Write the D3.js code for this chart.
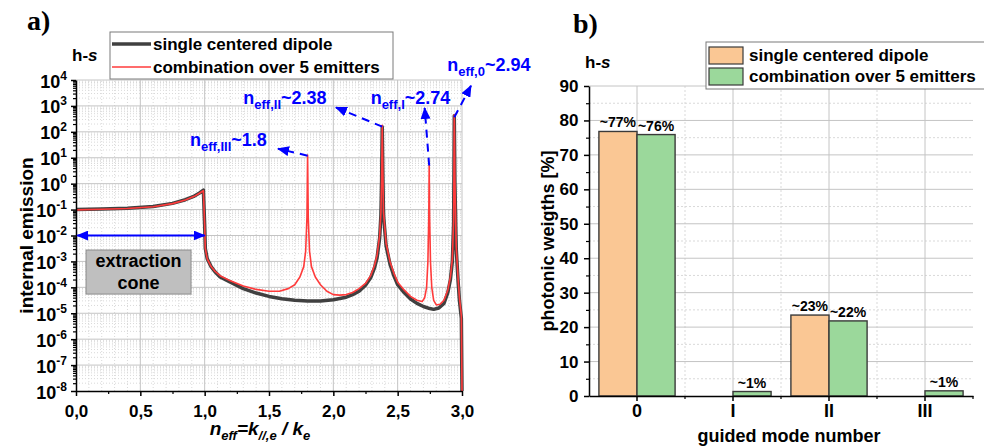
<!DOCTYPE html>
<html>
<head>
<meta charset="utf-8">
<script src="https://cdn.jsdelivr.net/npm/d3@7"></script>
<style>
  body { margin: 0; background: #fff; }
  svg { display: block; font-family: Arial, "Liberation Sans", sans-serif; font-weight: bold; }
</style>
</head>
<body>
<svg id="chart" width="984" height="446"></svg>
<script>
// ---- panel a data : [n_eff, log10(internal emission)]
var dipoleCurve = [
  [0.00,-1.00],[0.20,-0.98],[0.40,-0.95],[0.60,-0.88],[0.75,-0.76],[0.85,-0.62],
  [0.92,-0.48],[0.96,-0.36],[0.99,-0.25],[1.00,-1.60],[1.005,-2.50],[1.02,-2.90],
  [1.05,-3.20],[1.08,-3.40],[1.12,-3.60],[1.20,-3.80],[1.30,-4.05],[1.40,-4.22],
  [1.50,-4.35],[1.60,-4.44],[1.70,-4.50],[1.80,-4.53],[1.90,-4.53],[2.00,-4.48],
  [2.05,-4.43],[2.10,-4.38],[2.15,-4.28],[2.20,-4.15],[2.25,-3.92],[2.29,-3.63],
  [2.32,-3.25],[2.34,-2.86],[2.36,-2.10],[2.37,-1.20],[2.375,0.00],[2.38,2.20],
  [2.385,0.30],[2.39,-1.20],[2.41,-2.40],[2.44,-3.10],[2.47,-3.55],[2.50,-3.90],
  [2.55,-4.20],[2.60,-4.45],[2.65,-4.62],[2.70,-4.74],[2.75,-4.82],[2.78,-4.85],
  [2.82,-4.80],[2.86,-4.62],[2.89,-4.20],[2.91,-3.70],[2.925,-3.00],[2.935,-1.50],
  [2.94,2.62],[2.945,0.00],[2.955,-2.50],[2.97,-3.80],[2.98,-4.50],[2.995,-5.20],
  [3.00,-8.00]
];
var comboCurve = [
  [0.00,-1.01],[0.20,-0.99],[0.40,-0.96],[0.60,-0.89],[0.75,-0.77],[0.85,-0.63],
  [0.92,-0.49],[0.96,-0.37],[0.99,-0.27],[1.00,-1.60],[1.005,-2.50],[1.02,-2.90],
  [1.05,-3.20],[1.08,-3.38],[1.12,-3.55],[1.20,-3.75],[1.30,-3.95],[1.40,-4.08],
  [1.50,-4.15],[1.58,-4.15],[1.65,-4.05],[1.70,-3.90],[1.74,-3.60],[1.77,-3.20],
  [1.785,-2.60],[1.795,-1.30],[1.80,1.10],[1.805,-1.30],[1.815,-2.60],[1.83,-3.20],
  [1.86,-3.60],[1.90,-3.90],[1.95,-4.15],[2.00,-4.28],[2.05,-4.30],[2.10,-4.28],
  [2.15,-4.20],[2.20,-4.05],[2.25,-3.85],[2.29,-3.55],[2.32,-3.15],[2.34,-2.75],
  [2.36,-2.00],[2.37,-1.10],[2.375,0.10],[2.38,2.25],[2.385,0.40],[2.39,-1.10],
  [2.41,-2.30],[2.44,-3.00],[2.47,-3.45],[2.50,-3.80],[2.55,-4.10],[2.60,-4.35],
  [2.65,-4.50],[2.69,-4.55],[2.71,-4.40],[2.725,-4.00],[2.735,-3.00],[2.742,-1.20],
  [2.745,0.75],[2.748,-1.20],[2.755,-3.00],[2.765,-4.00],[2.78,-4.50],[2.80,-4.68],
  [2.83,-4.65],[2.86,-4.50],[2.89,-4.10],[2.91,-3.60],[2.925,-2.90],[2.935,-1.40],
  [2.94,2.66],[2.945,0.10],[2.955,-2.40],[2.97,-3.70],[2.98,-4.40],[2.995,-5.10],
  [3.00,-8.00]
];
// mode annotations: label parts, peak position, peak value (log10), label anchor (n_eff, log10), arrow tip
var modeSubs   = ["eff,III", "eff,II", "eff,I", "eff,0"];
var modeNums   = ["~1.8", "~2.38", "~2.74", "~2.94"];
var peakNeff   = [1.80, 2.38, 2.745, 2.94];
var peakLog    = [1.08, 2.20, 0.70, 2.56];
var labelNeff  = [0.886, 1.30, 2.29, 2.885];
var labelLog   = [1.45, 3.07, 3.07, 4.33];
var tipNeff    = [1.57, 2.02, 2.71, 3.07];
var tipLog     = [1.35, 2.94, 2.92, 3.78];

// ---- panel b data
var modes = ["0", "I", "II", "III"];
var seriesNames = ["single centered dipole", "combination over 5 emitters"];
var weightDipole = [76.8, 0, 23.5, 0];
var weightCombo  = [75.9, 1.3, 21.8, 1.5];
var labelDipole  = ["~77%", "", "~23%", ""];
var labelCombo   = ["~76%", "~1%", "~22%", "~1%"];

var svg = d3.select("#chart");
var blue = "#0000ff";
var gridMajor = "#c4c4c4", gridMinor = "#d9d9d9";

var defs = svg.append("defs");
defs.append("marker")
  .attr("id", "arrowBlue")
  .attr("viewBox", "0 0 12 10")
  .attr("refX", 11).attr("refY", 5)
  .attr("markerWidth", 12).attr("markerHeight", 10)
  .attr("markerUnits", "userSpaceOnUse")
  .attr("orient", "auto-start-reverse")
  .append("path").attr("d", "M0,0 L12,5 L0,10 z").attr("fill", blue);

function styleAxis(g, width) {
  g.select(".domain").attr("stroke", "#000").attr("stroke-width", width);
  g.selectAll(".tick line").attr("stroke", "#000").attr("stroke-width", width);
}

// =========================== PANEL A ===========================
var xa = d3.scaleLinear().domain([0, 3]).range([76, 462]);
var ya = d3.scaleLog().domain([1e-8, 1e4]).range([391, 80]);

var gA = svg.append("g");

// grid
var minorX = d3.range(1, 30).map(function(i) { return i / 10; }).filter(function(v) { return Math.round(v * 10) % 5 !== 0; });
var majorX = [0.5, 1, 1.5, 2, 2.5, 3];
var decades = d3.range(-8, 5).map(function(e) { return Math.pow(10, e); });
var minorY = [];
d3.range(-8, 4).forEach(function(e) {
  for (var k = 2; k <= 9; k++) minorY.push(k * Math.pow(10, e));
});

gA.selectAll(".gmx").data(minorX).enter().append("line")
  .attr("x1", xa).attr("x2", xa).attr("y1", ya(1e-8)).attr("y2", ya(1e4))
  .attr("stroke", gridMinor).attr("stroke-dasharray", "1,2");
gA.selectAll(".gmy").data(minorY).enter().append("line")
  .attr("y1", ya).attr("y2", ya).attr("x1", xa(0)).attr("x2", xa(3))
  .attr("stroke", gridMinor).attr("stroke-dasharray", "1,2");
gA.selectAll(".gMx").data(majorX).enter().append("line")
  .attr("x1", xa).attr("x2", xa).attr("y1", ya(1e-8)).attr("y2", ya(1e4))
  .attr("stroke", gridMajor);
gA.selectAll(".gMy").data(decades.slice(1)).enter().append("line")
  .attr("y1", ya).attr("y2", ya).attr("x1", xa(0)).attr("x2", xa(3))
  .attr("stroke", gridMajor);

// curves
var lineA = d3.line()
  .x(function(d) { return xa(d[0]); })
  .y(function(d) { return ya(Math.pow(10, d[1])); });

gA.append("path").datum(dipoleCurve)
  .attr("d", lineA).attr("fill", "none")
  .attr("stroke", "#404040").attr("stroke-width", 3.5).attr("stroke-linejoin", "round");
gA.append("path").datum(comboCurve)
  .attr("d", lineA).attr("fill", "none")
  .attr("stroke", "#ff3b3b").attr("stroke-width", 1.6).attr("stroke-linejoin", "round");

// axes
var axBottomA = gA.append("g").attr("transform", "translate(0," + ya(1e-8) + ")")
  .call(d3.axisBottom(xa).tickValues([0, 0.5, 1, 1.5, 2, 2.5, 3]).tickSize(5).tickSizeOuter(0)
    .tickFormat(function(d) { return d3.format(".1f")(d).replace(".", ","); }));
axBottomA.selectAll("text").attr("font-size", 17).attr("font-weight", "bold").attr("fill", "#000").attr("dy", "1.05em");
styleAxis(axBottomA, 1.5);
var axBottomAm = gA.append("g").attr("transform", "translate(0," + ya(1e-8) + ")")
  .call(d3.axisBottom(xa).tickValues([0.25, 0.75, 1.25, 1.75, 2.25, 2.75]).tickSize(3).tickFormat(""));
axBottomAm.select(".domain").remove();
styleAxis(axBottomAm, 1.2);

var axLeftA = gA.append("g").attr("transform", "translate(" + xa(0) + ",0)")
  .call(d3.axisLeft(ya).tickValues(decades).tickSize(5).tickSizeOuter(0).tickFormat(""));
styleAxis(axLeftA, 1.5);
axLeftA.selectAll(".tick").each(function(d) {
  var t = d3.select(this).append("text")
    .attr("x", -9).attr("y", 7).attr("text-anchor", "end")
    .attr("fill", "#000").attr("font-size", 18).attr("font-weight", "bold");
  t.append("tspan").text("10");
  t.append("tspan").attr("dy", -8).attr("font-size", 12).text(Math.round(Math.log10(d)));
});
var axLeftAm = gA.append("g").attr("transform", "translate(" + xa(0) + ",0)")
  .call(d3.axisLeft(ya).tickValues(minorY).tickSize(3).tickFormat(""));
axLeftAm.select(".domain").remove();
styleAxis(axLeftAm, 1.2);

// axis titles
gA.append("text")
  .attr("transform", "translate(33," + ((ya(1e-8) + ya(1e4)) / 2) + ") rotate(-90)")
  .attr("text-anchor", "middle").attr("font-size", 19).text("internal emission");

var xt = gA.append("text").attr("x", 260).attr("y", 435)
  .attr("text-anchor", "middle").attr("font-size", 19).attr("font-style", "italic");
xt.append("tspan").text("n");
xt.append("tspan").attr("dy", 5).attr("font-size", 13).text("eff");
xt.append("tspan").attr("dy", -5).text("=k");
xt.append("tspan").attr("dy", 5).attr("font-size", 13).text("//,e");
xt.append("tspan").attr("dy", -5).text(" / k");
xt.append("tspan").attr("dy", 5).attr("font-size", 13).text("e");

// h-s
var hsA = gA.append("text").attr("x", 72).attr("y", 61).attr("font-size", 17);
hsA.append("tspan").text("h-");
hsA.append("tspan").attr("font-style", "italic").text("s");

// panel title
svg.append("text").attr("x", 27).attr("y", 30)
  .attr("font-family", "'Liberation Serif', 'Times New Roman', serif")
  .attr("font-size", 28).attr("font-weight", "bold").text("a)");

// extraction cone
gA.append("line")
  .attr("x1", xa(0.01)).attr("x2", xa(1.0))
  .attr("y1", ya(1e-2)).attr("y2", ya(1e-2))
  .attr("stroke", blue).attr("stroke-width", 2)
  .attr("marker-start", "url(#arrowBlue)").attr("marker-end", "url(#arrowBlue)");
gA.append("rect")
  .attr("x", xa(0.078)).attr("y", ya(Math.pow(10, -2.56)))
  .attr("width", xa(0.894) - xa(0.078))
  .attr("height", ya(Math.pow(10, -4.26)) - ya(Math.pow(10, -2.56)))
  .attr("fill", "#bfbfbf").attr("stroke", "#8c8c8c").attr("stroke-width", 1);
gA.append("text").attr("x", xa(0.486)).attr("y", 267)
  .attr("text-anchor", "middle").attr("font-size", 18).text("extraction");
gA.append("text").attr("x", xa(0.486)).attr("y", 289)
  .attr("text-anchor", "middle").attr("font-size", 18).text("cone");

// mode annotations
modeSubs.forEach(function(sub, i) {
  gA.append("line")
    .attr("x1", xa(peakNeff[i])).attr("y1", ya(Math.pow(10, peakLog[i])))
    .attr("x2", xa(tipNeff[i])).attr("y2", ya(Math.pow(10, tipLog[i])))
    .attr("stroke", blue).attr("stroke-width", 2).attr("stroke-dasharray", "8,6")
    .attr("marker-end", "url(#arrowBlue)");
  var t = gA.append("text")
    .attr("x", xa(labelNeff[i])).attr("y", ya(Math.pow(10, labelLog[i])))
    .attr("fill", blue).attr("font-size", 18);
  t.append("tspan").text("n");
  t.append("tspan").attr("dy", 5).attr("font-size", 13).text(sub);
  t.append("tspan").attr("dy", -5).text(modeNums[i]);
});

// legend a
var legA = gA.append("g");
legA.append("rect").attr("x", 110).attr("y", 32).attr("width", 283).attr("height", 47)
  .attr("fill", "#fff").attr("stroke", "#7a7a7a").attr("stroke-width", 1);
legA.append("line").attr("x1", 112).attr("x2", 151).attr("y1", 44).attr("y2", 44)
  .attr("stroke", "#404040").attr("stroke-width", 3.5);
legA.append("line").attr("x1", 112).attr("x2", 151).attr("y1", 67).attr("y2", 67)
  .attr("stroke", "#ff3b3b").attr("stroke-width", 1.6);
legA.append("text").attr("x", 153).attr("y", 50).attr("font-size", 17).text(seriesNames[0]);
legA.append("text").attr("x", 153).attr("y", 73).attr("font-size", 17).text(seriesNames[1]);

// =========================== PANEL B ===========================
var x0 = d3.scaleBand().domain(modes).range([589, 973]);
var x1 = d3.scaleBand().domain([0, 1]).range([0, x0.bandwidth()]).paddingOuter(0.26);
var yb = d3.scaleLinear().domain([0, 90]).range([396, 86]);

var gB = svg.append("g");

// grid
gB.selectAll(".bgm").data(d3.range(5, 90, 10)).enter().append("line")
  .attr("y1", yb).attr("y2", yb).attr("x1", 589).attr("x2", 973)
  .attr("stroke", gridMinor).attr("stroke-dasharray", "2,2");
gB.selectAll(".bgvm").data(modes.slice(1)).enter().append("line")
  .attr("x1", function(d) { return x0(d); }).attr("x2", function(d) { return x0(d); })
  .attr("y1", yb(0)).attr("y2", yb(90))
  .attr("stroke", gridMinor).attr("stroke-dasharray", "2,2");
gB.selectAll(".bgM").data(d3.range(10, 91, 10)).enter().append("line")
  .attr("y1", yb).attr("y2", yb).attr("x1", 589).attr("x2", 973)
  .attr("stroke", gridMajor);
gB.selectAll(".bgvM").data(modes).enter().append("line")
  .attr("x1", function(d) { return x0(d) + x0.bandwidth() / 2; })
  .attr("x2", function(d) { return x0(d) + x0.bandwidth() / 2; })
  .attr("y1", yb(0)).attr("y2", yb(90))
  .attr("stroke", gridMajor);

// bars
var barColors = ["#fac794", "#9bd89b"];
var barSeries = [weightDipole, weightCombo];
var barLabels = [labelDipole, labelCombo];
barSeries.forEach(function(vals, s) {
  gB.selectAll(".bar" + s).data(modes).enter().append("rect")
    .attr("x", function(d) { return x0(d) + x1(s); })
    .attr("y", function(d, i) { return yb(vals[i]); })
    .attr("width", x1.bandwidth())
    .attr("height", function(d, i) { return yb(0) - yb(vals[i]); })
    .attr("fill", barColors[s]).attr("stroke", "#3a3a3a").attr("stroke-width", 1.4)
    .style("display", function(d, i) { return vals[i] > 0 ? null : "none"; });
  gB.selectAll(".lab" + s).data(modes).enter().append("text")
    .attr("x", function(d) { return x0(d) + x1(s) + x1.bandwidth() / 2; })
    .attr("y", function(d, i) { return yb(vals[i]) - 4; })
    .attr("text-anchor", "middle").attr("font-size", 14)
    .text(function(d, i) { return barLabels[s][i]; });
});

// axes
var axLeftB = gB.append("g").attr("transform", "translate(589,0)")
  .call(d3.axisLeft(yb).tickValues(d3.range(0, 91, 10)).tickSize(5).tickSizeOuter(0));
axLeftB.selectAll("text").attr("font-size", 17).attr("font-weight", "bold").attr("fill", "#000").attr("dx", "-0.15em");
styleAxis(axLeftB, 1.5);
var axLeftBm = gB.append("g").attr("transform", "translate(589,0)")
  .call(d3.axisLeft(yb).tickValues(d3.range(5, 90, 10)).tickSize(3).tickFormat(""));
axLeftBm.select(".domain").remove();
styleAxis(axLeftBm, 1.2);

var axBottomB = gB.append("g").attr("transform", "translate(0," + yb(0) + ")")
  .call(d3.axisBottom(x0).tickSize(5).tickSizeOuter(0));
axBottomB.selectAll("text").attr("font-size", 18).attr("font-weight", "bold").attr("fill", "#000").attr("dy", "0.72em");
styleAxis(axBottomB, 1.5);
var axBottomBm = gB.append("g").attr("transform", "translate(0," + yb(0) + ")");
axBottomBm.selectAll("line").data(modes.slice(1).concat(["end"])).enter().append("line")
  .attr("x1", function(d) { return d === "end" ? 973 : x0(d); })
  .attr("x2", function(d) { return d === "end" ? 973 : x0(d); })
  .attr("y1", 0).attr("y2", 3).attr("stroke", "#000").attr("stroke-width", 1.2);

gB.append("text")
  .attr("transform", "translate(554," + ((yb(0) + yb(90)) / 2) + ") rotate(-90)")
  .attr("text-anchor", "middle").attr("font-size", 18).text("photonic weigths [%]");
gB.append("text").attr("x", 789).attr("y", 442)
  .attr("text-anchor", "middle").attr("font-size", 18).text("guided mode number");

var hsB = gB.append("text").attr("x", 585).attr("y", 68).attr("font-size", 17);
hsB.append("tspan").text("h-");
hsB.append("tspan").attr("font-style", "italic").text("s");

svg.append("text").attr("x", 573).attr("y", 33)
  .attr("font-family", "'Liberation Serif', 'Times New Roman', serif")
  .attr("font-size", 28).attr("font-weight", "bold").text("b)");

// legend b
var legB = gB.append("g");
legB.append("rect").attr("x", 706).attr("y", 42).attr("width", 290).attr("height", 47)
  .attr("fill", "#fff").attr("stroke", "#7a7a7a").attr("stroke-width", 1);
seriesNames.forEach(function(name, s) {
  legB.append("rect").attr("x", 709).attr("y", 47 + s * 21).attr("width", 34).attr("height", 17)
    .attr("fill", barColors[s]).attr("stroke", "#3a3a3a").attr("stroke-width", 1.2);
  legB.append("text").attr("x", 749).attr("y", 61 + s * 21).attr("font-size", 17).text(name);
});
</script>
</body>
</html>
